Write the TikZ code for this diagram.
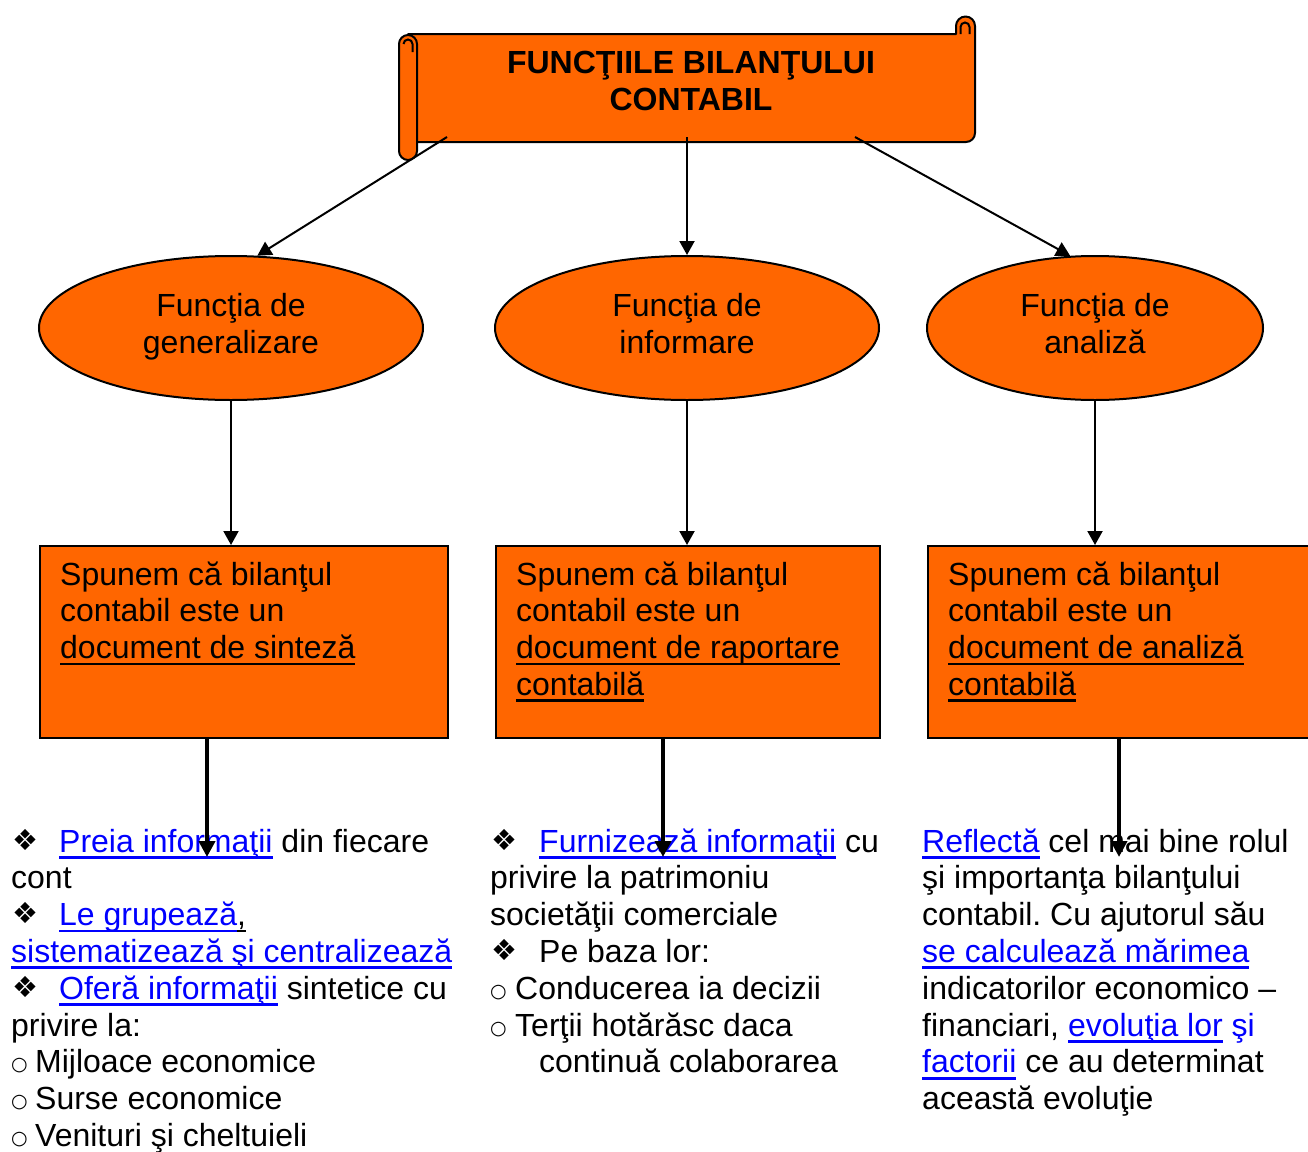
\documentclass[tikz,border=0pt]{standalone}
\usepackage{fontspec}
\setmainfont{Liberation Sans}
\newfontfamily\symfont{DejaVu Sans}
\usepackage{xcolor}
\usetikzlibrary{arrows.meta,shapes.geometric,positioning}

\definecolor{orangefill}{HTML}{FF6600}
\definecolor{linkblue}{HTML}{0000FF}

\newcommand\docul[1]{\leavevmode\setbox0\hbox{#1}\rlap{\rule[-6.8pt]{\wd0}{2.8pt}}\box0}
\newcommand\linkul[1]{\leavevmode{\color{linkblue}\docul{#1}}}
\newcommand\dbul[1][48pt]{\makebox[#1][l]{\hspace{1pt}\raisebox{2pt}{\symfont\fontsize{29}{29}\selectfont ❖}}}
\newcommand\obul[1][24pt]{\makebox[#1][l]{\hspace{0pt}\raisebox{2pt}{\symfont\fontsize{19}{19}\selectfont ○}}}

\tikzset{
  scrollpart/.style={draw=black, line width=2pt, fill=orangefill, line join=round},
  funcbox/.style={ellipse, draw=black, line width=2pt, fill=orangefill,
    minimum width=384pt, minimum height=144pt, inner sep=0pt, align=center},
  docbox/.style={rectangle, draw=black, line width=2pt, fill=orangefill,
    anchor=north west, inner sep=0pt, minimum height=192pt},
  arr/.style={-{Triangle[length=14pt,width=15pt]}, line width=2pt},
  thickarr/.style={-{Triangle[length=16pt,width=16pt]}, line width=4.5pt},
  txt/.style={anchor=base west, inner sep=0pt},
}

\begin{document}
\frenchspacing
\begin{tikzpicture}[x=1pt, y=-1pt, font=\fontsize{32}{36.8}\selectfont]
        \useasboundingbox (0,0) rectangle (1308,1151);

        % Sul cu titlul
        \draw[scrollpart] (408,34) -- (956,34) -- (956,26) arc[start angle=180, end angle=360, radius=9.5]
              -- (975,133) arc[start angle=0, end angle=90, radius=9] -- (408,142) -- cycle;
        \draw[line width=2pt] (960.5,34) -- (960.5,27) arc[start angle=180, end angle=360, radius=4.5] -- (969.5,34);
        \draw[scrollpart] (399,44) arc[start angle=180, end angle=360, radius=9]
              -- (417,151) arc[start angle=0, end angle=180, radius=9] -- cycle;
        \draw[line width=2pt] (403.5,44) arc[start angle=180, end angle=360, radius=4.5] -- (412.5,52);
        \node[font=\bfseries\fontsize{32}{37}\selectfont, align=center, inner sep=0pt] (title) at (691,80.5)
              {FUNCŢIILE BILANŢULUI\\CONTABIL};
        \coordinate (t1) at (447,137);
        \coordinate (t2) at (687,137);
        \coordinate (t3) at (855,137);

        % Funcţii
        \node[funcbox] (gen) at (231,328) {Funcţia de\strut\\generalizare\strut};
        \node[funcbox] (inf) at (687,328) {Funcţia de\strut\\informare\strut};
        \node[funcbox, minimum width=336pt] (ana) at (1095,328) {Funcţia de\strut\\analiză\strut};

        % Dreptunghiuri
        \node[docbox, minimum width=408pt] (boxA) at (39,545) {};
        \node[docbox, minimum width=384pt] (boxB) at (495,545) {};
        \node[docbox, minimum width=393pt] (boxC) at (927,545) {};
        \node[txt] (sA) at ([shift={(21,40)}]boxA.north west)
              {\parbox[t]{380pt}{Spunem că bilanţul\\contabil este un\\\docul{document de sinteză}}};
        \node[txt] (sB) at ([shift={(21,40)}]boxB.north west)
              {\parbox[t]{360pt}{Spunem că bilanţul\\contabil este un\\\docul{document de raportare}\\\docul{contabilă}}};
        \node[txt] (sC) at ([shift={(21,40)}]boxC.north west)
              {\parbox[t]{360pt}{Spunem că bilanţul\\contabil este un\\\docul{document de analiză}\\\docul{contabilă}}};

        % Săgeţi
        \draw[arr] (t1) -- (gen.70);
        \draw[arr] (t2) -- (inf.north);
        \draw[arr] (t3) -- (ana.109);
        \draw[arr] (gen.south) -- (gen.south |- boxA.north);
        \draw[arr] (inf.south) -- (inf.south |- boxB.north);
        \draw[arr] (ana.south) -- (ana.south |- boxC.north);

        % Liste
        \node[txt] (listA) at (11,852) {\parbox[t]{460pt}{%
              \dbul\linkul{Preia informaţii} din fiecare\\
              cont\\
              \dbul\linkul{Le grupează}\docul{,}\\
              \linkul{sistematizează şi centralizează}\\
              \dbul\linkul{Oferă informaţii} sintetice cu\\
              privire la:\\
              \obul Mijloace economice\\
              \obul Surse economice\\
              \obul Venituri şi cheltuieli}};
        \node[txt] (listB) at (490,852) {\parbox[t]{420pt}{%
              \dbul[49pt]\linkul{Furnizează informaţii} cu\\
              privire la patrimoniu\\
              societăţii comerciale\\
              \dbul[49pt]Pe baza lor:\\
              \obul[25pt]Conducerea ia decizii\\
              \obul[25pt]Terţii hotărăsc daca\\
              \hspace*{49pt}continuă colaborarea}};
        \node[txt] (listC) at (922,852) {\parbox[t]{400pt}{%
              \linkul{Reflectă} cel mai bine rolul\\
              şi importanţa bilanţului\\
              contabil. Cu ajutorul său\\
              \linkul{se calculează mărimea}\\
              indicatorilor economico –\\
              financiari, \linkul{evoluţia lor} {\color{linkblue}şi}\\
              \linkul{factorii} ce au determinat\\
              această evoluţie}};

        \coordinate (dA) at (207,857);
        \coordinate (dB) at (663,857);
        \coordinate (dC) at (1119,857);
        \draw[thickarr] (boxA.south -| dA) -- (dA);
        \draw[thickarr] (boxB.south -| dB) -- (dB);
        \draw[thickarr] (boxC.south -| dC) -- (dC);
\end{tikzpicture}
\end{document}
